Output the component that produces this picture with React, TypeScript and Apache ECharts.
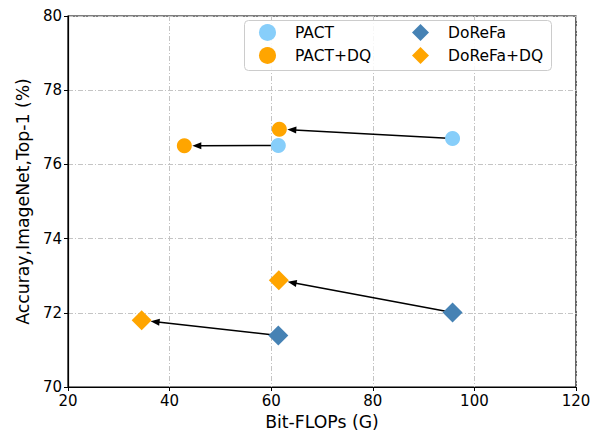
import React, { useEffect, useRef } from "react";
import * as echarts from "echarts";

const pactFlops = [95.7, 61.4];
const pactAcc = [76.7, 76.51];
const pactDqFlops = [61.6, 42.9];
const pactDqAcc = [76.95, 76.5];
const dorefaFlops = [95.7, 61.4];
const dorefaAcc = [72.01, 71.39];
const dorefaDqFlops = [61.5, 34.5];
const dorefaDqAcc = [72.88, 71.8];

const xTicks = [20, 40, 60, 80, 100, 120];
const yTicks = [70, 72, 74, 76, 78, 80];

const zip = (xs: number[], ys: number[]) => xs.map((x, i) => [x, ys[i]]);

// arrows: from base method to DQ counterpart
const arrows = [
  [pactFlops[0], pactAcc[0], pactDqFlops[0], pactDqAcc[0], 8],
  [pactFlops[1], pactAcc[1], pactDqFlops[1], pactDqAcc[1], 8],
  [dorefaFlops[0], dorefaAcc[0], dorefaDqFlops[0], dorefaDqAcc[0], 9],
  [dorefaFlops[1], dorefaAcc[1], dorefaDqFlops[1], dorefaDqAcc[1], 9],
];

const FONT = "DejaVu Sans";

export default function App() {
  const ref = useRef<HTMLDivElement>(null);
  useEffect(() => {
    if (!ref.current) return;
    const chart = echarts.init(ref.current, null, { renderer: "svg" });
    const gridLine = { show: true, lineStyle: { color: "#c4c4c4", width: 1, type: [5, 2, 1, 2] as any } };
    const legendBase = {
      orient: "vertical",
      top: 24,
      padding: 0,
      itemGap: 6,
      itemWidth: 17,
      itemHeight: 17,
      z: 5,
      textStyle: { fontSize: 15.5, color: "#000", fontFamily: FONT, padding: [0, 0, 0, 14] },
    };
    chart.setOption({
      animation: false,
      backgroundColor: "#fff",
      textStyle: { fontFamily: FONT },
      grid: { left: 68, right: 22, top: 16, bottom: 47, show: true, borderColor: "#000", borderWidth: 1.2, backgroundColor: "transparent" },
      xAxis: {
        type: "value",
        min: xTicks[0],
        max: xTicks[xTicks.length - 1],
        interval: 20,
        name: "Bit-FLOPs (G)",
        nameLocation: "middle",
        nameGap: 26,
        nameTextStyle: { fontSize: 17.3, color: "#000", fontFamily: FONT },
        axisLine: { show: true, onZero: false, lineStyle: { color: "#000", width: 1.2 } },
        axisTick: { show: true, inside: false, length: 4, lineStyle: { color: "#000" } },
        axisLabel: { fontSize: 15, color: "#000", margin: 6, fontFamily: FONT },
        splitLine: gridLine,
      },
      yAxis: {
        type: "value",
        min: yTicks[0],
        max: yTicks[yTicks.length - 1],
        interval: 2,
        name: "Accuray,ImageNet,Top-1 (%)",
        nameLocation: "middle",
        nameGap: 37,
        nameTextStyle: { fontSize: 17.3, color: "#000", fontFamily: FONT },
        axisLine: { show: true, onZero: false, lineStyle: { color: "#000", width: 1.2 } },
        axisTick: { show: true, inside: false, length: 4, lineStyle: { color: "#000" } },
        axisLabel: { fontSize: 15, color: "#000", margin: 6, fontFamily: FONT },
        splitLine: gridLine,
      },
      graphic: [
        {
          type: "rect",
          z: 3,
          shape: { x: 244.5, y: 20.5, width: 307, height: 50, r: 4 },
          style: { fill: "rgba(255,255,255,0.85)", stroke: "#cccccc", lineWidth: 1 },
        },
      ],
      legend: [
        { ...legendBase, left: 259, data: ["PACT", "PACT+DQ"] },
        { ...legendBase, left: 412, data: ["DoReFa", "DoReFa+DQ"] },
      ],
      series: [
        {
          type: "custom",
          name: "arrows",
          z: 1,
          silent: true,
          data: arrows,
          renderItem: (params: any, api: any) => {
            const p1 = api.coord([api.value(0), api.value(1)]);
            const p2 = api.coord([api.value(2), api.value(3)]);
            const r = api.value(4);
            const dx = p2[0] - p1[0];
            const dy = p2[1] - p1[1];
            const len = Math.sqrt(dx * dx + dy * dy);
            const ux = dx / len;
            const uy = dy / len;
            const tip = [p2[0] - ux * r, p2[1] - uy * r];
            const hl = 9;
            const hw = 3.5;
            const base = [tip[0] - ux * hl, tip[1] - uy * hl];
            const nx = -uy;
            const ny = ux;
            return {
              type: "group",
              children: [
                {
                  type: "line",
                  shape: { x1: p1[0], y1: p1[1], x2: base[0] + ux * 2, y2: base[1] + uy * 2 },
                  style: { stroke: "#000", lineWidth: 1.6 },
                },
                {
                  type: "polygon",
                  shape: {
                    points: [
                      tip,
                      [base[0] + nx * hw, base[1] + ny * hw],
                      [base[0] - nx * hw, base[1] - ny * hw],
                    ],
                  },
                  style: { fill: "#000" },
                },
              ],
            };
          },
        },
        {
          type: "scatter",
          name: "PACT",
          symbol: "circle",
          symbolSize: 15,
          z: 2,
          itemStyle: { color: "#87CEFA", opacity: 1 },
          data: zip(pactFlops, pactAcc),
        },
        {
          type: "scatter",
          name: "PACT+DQ",
          symbol: "circle",
          symbolSize: 15,
          z: 2,
          itemStyle: { color: "#FFA500", opacity: 1 },
          data: zip(pactDqFlops, pactDqAcc),
        },
        {
          type: "scatter",
          name: "DoReFa",
          symbol: "diamond",
          symbolSize: 20,
          z: 2,
          itemStyle: { color: "#4682B4", opacity: 1 },
          data: zip(dorefaFlops, dorefaAcc),
        },
        {
          type: "scatter",
          name: "DoReFa+DQ",
          symbol: "diamond",
          symbolSize: 20,
          z: 2,
          itemStyle: { color: "#FFA500", opacity: 1 },
          data: zip(dorefaDqFlops, dorefaDqAcc),
        },
      ],
    });
    return () => chart.dispose();
  }, []);
  return <div ref={ref} style={{ width: 598, height: 435, position: "absolute", left: 0, top: 0 }} />;
}
